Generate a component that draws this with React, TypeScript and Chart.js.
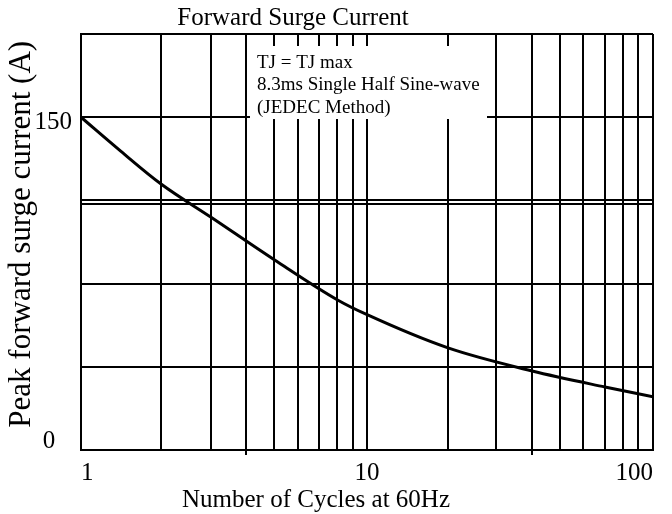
import React, { useEffect, useRef } from "react";
import { Chart, registerables } from "chart.js";

Chart.register(...registerables);

// ---- data ----
const cycles = [1, 1.38, 1.905, 2.85, 4.77, 7.92, 9.92, 19.2, 37.8, 67.9, 100];
const surgeCurrent = [150, 134.6, 119.9, 104.9, 85.5, 67.5, 61.2, 46.0, 35.6, 28.4, 24.0];

// grid lines as drawn in the reference (decade subdivisions 1..10..100)
const xGridValues = [1, 1.91, 2.84, 3.77, 4.73, 5.74, 6.78, 7.84, 8.93, 10, 19.25, 28.25, 37.6, 47.3, 57.1, 67.9, 78.7, 88.8, 100];
const xTickLabels: Record<string, string> = { "1": "1", "10": "10", "100": "100" };
const xExtendedTicks = [3.77, 37.6];

const yGridValues = [0, 37.5, 75, 111, 112.5, 150, 187.5];

const titleText = "Forward Surge Current";
const xTitleText = "Number of Cycles at 60Hz";
const yTitleText = "\u2002Peak forward surge current (A)";
const noteLines = ["TJ = TJ max", "8.3ms Single Half Sine-wave", "(JEDEC Method)"];

const FONT = "'Liberation Serif', 'Times New Roman', serif";

const overlayPlugin = {
  id: "overlayText",
  beforeDatasetsDraw(chart: any) {
    const ctx = chart.ctx;
    ctx.save();
    ctx.fillStyle = "#ffffff";
    ctx.fillRect(250, 46, 237, 73);
    ctx.fillStyle = "#000000";
    ctx.font = `19px ${FONT}`;
    ctx.textAlign = "left";
    ctx.textBaseline = "middle";
    noteLines.forEach((t, i) => ctx.fillText(t, 257, 63 + i * 22.5));
    ctx.restore();
  },
  afterDraw(chart: any) {
    const ctx = chart.ctx;
    ctx.save();
    ctx.fillStyle = "#000000";
    ctx.textAlign = "center";
    ctx.textBaseline = "middle";
    ctx.font = `25px ${FONT}`;
    ctx.fillText(titleText, 293, 18);
    ctx.fillText(xTitleText, 316, 500);
    ctx.restore();
  },
};

export default function App() {
  const canvasRef = useRef<HTMLCanvasElement | null>(null);

  useEffect(() => {
    if (!canvasRef.current) return;
    const chart = new Chart(canvasRef.current, {
      type: "line",
      data: {
        datasets: [
          {
            data: cycles.map((x, i) => ({ x, y: surgeCurrent[i] })),
            borderColor: "#000000",
            borderWidth: 3,
            pointRadius: 0,
            fill: false,
            tension: 0.4,
            cubicInterpolationMode: "monotone",
          },
        ],
      },
      options: {
        animation: false,
        responsive: false,
        layout: { padding: { top: 34, right: 19, left: 0, bottom: 0 } },
        plugins: {
          legend: { display: false },
          tooltip: { enabled: false },
          title: { display: false },
        },
        scales: {
          x: {
            type: "logarithmic",
            min: 1,
            max: 100,
            afterBuildTicks: (s: any) => {
              s.ticks = xGridValues.map((v) => ({ value: v }));
            },
            afterFit: (s: any) => {
              s.height = 64;
            },
            grid: {
              color: "#000000",
              lineWidth: 2,
              drawTicks: true,
              tickLength: 5,
              tickColor: (c: any) =>
                c.tick && xExtendedTicks.includes(c.tick.value) ? "#000000" : "rgba(0,0,0,0)",
            },
            border: { display: true, color: "#000000", width: 2 },
            ticks: {
              autoSkip: false,
              maxRotation: 0,
              align: "inner",
              padding: 3,
              color: "#000000",
              font: { family: FONT, size: 25 },
              callback: (v: any) => xTickLabels[String(v)] ?? "",
            },
          },
          y: {
            type: "linear",
            min: 0,
            max: 187.5,
            afterBuildTicks: (s: any) => {
              s.ticks = yGridValues.map((v) => ({ value: v }));
            },
            afterFit: (s: any) => {
              s.width = 81;
            },
            grid: { color: "#000000", lineWidth: 2, drawTicks: false },
            border: { display: true, color: "#000000", width: 2 },
            ticks: {
              autoSkip: false,
              padding: 9,
              color: "#000000",
              font: (c: any) => ({
                family: FONT,
                size: 25,
                lineHeight: c.tick && c.tick.value === 0 ? 0.72 : 0.44,
              }),
              callback: (v: any) => {
                const k = String(v);
                if (k === "0") return ["0\u2004\u2004", ""];
                if (k === "150") return ["", "150"];
                return "";
              },
            },
            title: {
              display: true,
              text: yTitleText,
              color: "#000000",
              font: { family: FONT, size: 31 },
              padding: { top: 3, bottom: 0 },
            },
          },
        },
      },
      plugins: [overlayPlugin],
    } as any);
    return () => chart.destroy();
  }, []);

  return (
    <div style={{ position: "absolute", left: 0, top: 0, width: 672, height: 514, background: "#ffffff" }}>
      <canvas ref={canvasRef} width={672} height={514} style={{ display: "block" }} />
    </div>
  );
}
